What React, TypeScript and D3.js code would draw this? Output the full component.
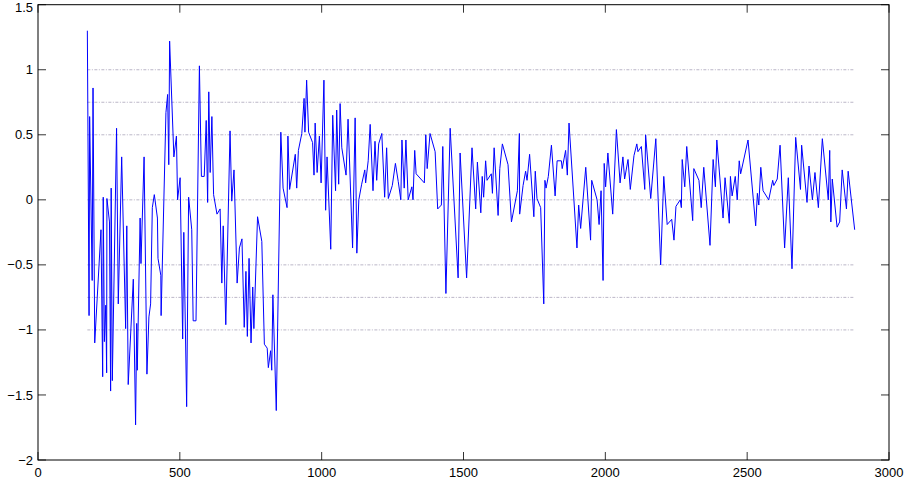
import React from "react";
import * as d3 from "d3";

const xValues: number[] = [
  174, 180, 182, 191, 194, 200, 222, 228, 230, 234, 239, 242, 243, 252, 256, 258, 262, 277, 283, 295,
  309, 313, 318, 336, 344, 348, 350, 360, 363, 374, 384, 391, 397, 403, 410, 421, 423, 433, 434, 451,
  457, 461, 464, 479, 488, 492, 501, 510, 514, 524, 531, 542, 547, 557, 569, 576, 586, 593, 598, 602,
  607, 613, 619, 631, 642, 648, 653, 662, 677, 683, 691, 702, 710, 719, 727, 733, 738, 744, 751, 757,
  761, 774, 789, 798, 808, 812, 820, 824, 828, 840, 856, 864, 878, 881, 887, 907, 912, 918, 930, 938,
  941, 947, 954, 968, 973, 977, 984, 992, 998, 1008, 1014, 1019, 1032, 1039, 1049, 1053, 1060, 1065, 1071, 1086,
  1093, 1109, 1118, 1124, 1131, 1141, 1152, 1155, 1164, 1171, 1181, 1188, 1194, 1201, 1212, 1222, 1229, 1235, 1249, 1260,
  1270, 1279, 1283, 1291, 1297, 1305, 1318, 1322, 1328, 1333, 1362, 1367, 1372, 1382, 1400, 1409, 1422, 1427, 1438, 1453,
  1481, 1488, 1511, 1530, 1543, 1549, 1561, 1566, 1571, 1578, 1583, 1598, 1602, 1608, 1622, 1628, 1637, 1657, 1669, 1690,
  1697, 1698, 1710, 1719, 1724, 1733, 1748, 1753, 1759, 1772, 1783, 1787, 1791, 1799, 1810, 1823, 1830, 1845, 1848, 1860,
  1866, 1872, 1900, 1906, 1913, 1931, 1948, 1952, 1971, 1978, 1985, 1992, 1996, 2001, 2009, 2026, 2039, 2052, 2062, 2068,
  2080, 2088, 2101, 2111, 2115, 2127, 2139, 2142, 2160, 2178, 2195, 2206, 2218, 2234, 2242, 2249, 2264, 2268, 2271, 2280,
  2287, 2308, 2312, 2330, 2338, 2347, 2369, 2380, 2388, 2393, 2415, 2422, 2437, 2441, 2447, 2458, 2465, 2472, 2477, 2503,
  2530, 2536, 2541, 2548, 2556, 2576, 2590, 2594, 2606, 2616, 2632, 2645, 2658, 2671, 2688, 2692, 2711, 2718, 2730, 2739,
  2751, 2765, 2786, 2791, 2795, 2800, 2817, 2826, 2835, 2850, 2856, 2879,
];

const yValues: number[] = [
  1.30, -0.89, 0.64, -0.62, 0.86, -1.10, -0.23, -1.36, 0.02, -1.09, -0.81, -1.33, 0.01, -0.17, -1.47, 0.09, -1.39, 0.55, -0.80, 0.33,
  -0.99, -0.20, -1.42, -0.61, -1.73, -0.95, -1.31, -0.14, -0.49, 0.33, -1.34, -0.90, -0.80, -0.06, 0.04, -0.14, -0.45, -0.58, -0.89, 0.67,
  0.81, 0.27, 1.22, 0.33, 0.49, 0.00, 0.17, -1.07, -0.25, -1.59, 0.02, -0.23, -0.93, -0.93, 1.03, 0.18, 0.18, 0.61, -0.02, 0.83,
  0.21, 0.64, 0.04, -0.11, -0.07, -0.64, -0.20, -0.96, 0.53, -0.01, 0.23, -0.64, -0.37, -0.30, -0.98, -0.55, -1.05, -0.45, -1.10, -0.67,
  -0.99, -0.13, -0.32, -1.11, -1.14, -1.29, -1.16, -1.31, -0.73, -1.62, 0.52, 0.09, -0.06, 0.49, 0.08, 0.35, 0.09, 0.38, 0.51, 0.78,
  0.52, 0.92, 0.52, 0.44, 0.19, 0.59, 0.21, 0.49, 0.13, 0.92, -0.08, 0.33, -0.38, 0.65, 0.07, 0.69, 0.12, 0.74, 0.40, 0.19,
  0.62, -0.37, 0.63, -0.41, 0.00, 0.12, 0.23, 0.13, 0.30, 0.58, 0.07, 0.45, 0.15, 0.43, 0.51, 0.02, 0.40, 0.01, 0.11, 0.28,
  0.14, 0.00, 0.46, 0.09, 0.46, 0.00, 0.10, 0.00, 0.38, 0.20, 0.13, 0.50, 0.24, 0.51, 0.37, -0.07, -0.04, 0.41, -0.72, 0.55,
  -0.60, 0.36, -0.60, 0.40, -0.07, 0.29, -0.10, 0.18, 0.02, 0.30, 0.15, 0.20, 0.05, 0.40, -0.12, 0.24, 0.43, 0.27, -0.17, 0.07,
  0.51, -0.11, 0.11, 0.22, 0.15, 0.35, -0.13, 0.22, 0.01, -0.06, -0.80, 0.15, 0.09, 0.18, 0.42, 0.03, 0.30, 0.30, 0.24, 0.38,
  0.19, 0.59, -0.37, -0.04, -0.22, 0.25, -0.31, 0.15, 0.00, -0.19, 0.07, -0.62, 0.28, 0.10, 0.36, -0.11, 0.54, 0.13, 0.33, 0.16,
  0.31, 0.08, 0.34, 0.43, 0.37, 0.41, 0.08, 0.50, 0.01, 0.47, -0.50, 0.18, -0.19, -0.15, -0.31, -0.05, 0.00, -0.06, 0.31, 0.10,
  0.41, -0.16, 0.24, 0.15, -0.06, 0.25, -0.35, 0.31, 0.10, 0.46, -0.14, 0.17, -0.18, 0.18, 0.03, 0.18, 0.00, 0.30, 0.20, 0.46,
  -0.20, 0.05, -0.04, 0.25, 0.07, 0.00, 0.15, 0.11, 0.16, 0.42, -0.37, 0.17, -0.53, 0.48, 0.08, 0.42, -0.02, 0.26, 0.00, 0.21,
  -0.06, 0.47, 0.00, 0.38, -0.17, 0.16, -0.21, -0.17, 0.23, -0.07, 0.22, -0.23,
];

const xTicks: number[] = [0, 500, 1000, 1500, 2000, 2500, 3000];
const yTicks: number[] = [-2, -1.5, -1, -0.5, 0, 0.5, 1, 1.5];
const gridLevels: number[] = [1, 0.75, 0.5, 0, -0.5, -0.75, -1];

const W = 906;
const H = 484;
const left = 38;
const right = 889;
const top = 4.7;
const bottom = 460;

export default function App() {
  const x = d3.scaleLinear().domain([0, 3000]).range([left, right]);
  const y = d3.scaleLinear().domain([-2, 1.5]).range([bottom, top]);
  const pts: [number, number][] = xValues.map((v, i) => [v, yValues[i]]);
  const line = d3
    .line<[number, number]>()
    .x((d) => x(d[0]))
    .y((d) => y(d[1]));
  const gx0 = x(d3.min(xValues) as number);
  const gx1 = x(d3.max(xValues) as number);
  const fmt = (v: number) => (v < 0 ? "\u2212" + String(-v) : String(v));
  const tl = 8;
  const font = "'Liberation Sans', Arial, Helvetica, sans-serif";
  const fs = 13;

  return (
    <svg
      width={W}
      height={H}
      style={{ position: "fixed", left: 0, top: 0, background: "#fff" }}
      fontFamily={font}
    >
      <rect x={0} y={0} width={W} height={H} fill="#fff" />
      {gridLevels.map((g) => (
        <line
          key={"g" + g}
          x1={gx0}
          x2={gx1}
          y1={y(g)}
          y2={y(g)}
          stroke="#a29cb4"
          strokeWidth={0.8}
          strokeDasharray="3,1.5,1,1.5"
          opacity={0.9}
        />
      ))}
      <path d={line(pts) || ""} fill="none" stroke="#0000ff" strokeWidth={1} strokeLinejoin="miter" />
      <rect
        x={left}
        y={top}
        width={right - left}
        height={bottom - top}
        fill="none"
        stroke="#000"
        strokeWidth={1}
      />
      {xTicks.map((t) => (
        <g key={"xt" + t}>
          <line x1={x(t)} x2={x(t)} y1={bottom} y2={bottom - tl} stroke="#000" strokeWidth={0.8} />
          <line x1={x(t)} x2={x(t)} y1={top} y2={top + tl} stroke="#000" strokeWidth={0.8} />
          <text x={x(t)} y={bottom + 17} fontSize={fs} textAnchor="middle" fill="#000">
            {fmt(t)}
          </text>
        </g>
      ))}
      {yTicks.map((t) => (
        <g key={"yt" + t}>
          <line x1={left} x2={left + tl} y1={y(t)} y2={y(t)} stroke="#000" strokeWidth={0.8} />
          <line x1={right} x2={right - tl} y1={y(t)} y2={y(t)} stroke="#000" strokeWidth={0.8} />
          <text
            x={left - 5}
            y={Math.max(y(t), 7.5)}
            dy="0.35em"
            fontSize={fs}
            textAnchor="end"
            fill="#000"
          >
            {fmt(t)}
          </text>
        </g>
      ))}
    </svg>
  );
}
